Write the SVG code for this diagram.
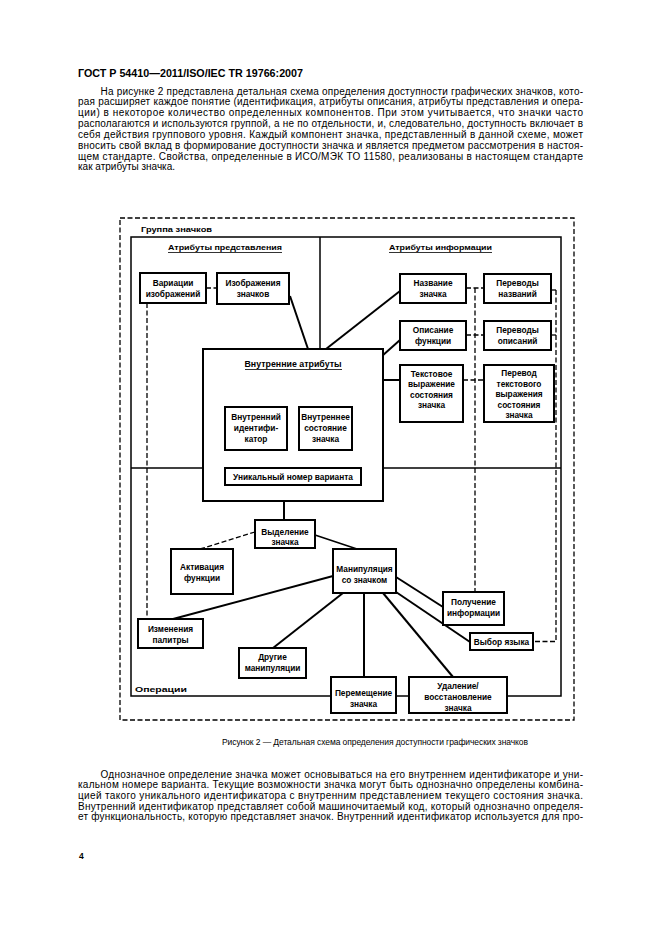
<svg xmlns="http://www.w3.org/2000/svg" width="661" height="936" viewBox="0 0 661 936">
<style>
.pg{font-family:"Liberation Sans",Arial,sans-serif;font-size:10px;fill:#000}
.hd{font-family:"Liberation Sans",Arial,sans-serif;font-size:10px;font-weight:bold;fill:#000}
.cap{font-family:"Liberation Sans",Arial,sans-serif;font-size:8.5px;fill:#000}
.bx rect{fill:#fff;stroke:#000;stroke-width:2}
.bx text{font-family:"Liberation Sans",Arial,sans-serif;font-size:8.3px;font-weight:bold;text-anchor:middle;fill:#000}
.lbl{font-family:"Liberation Sans",Arial,sans-serif;font-size:8px;font-weight:bold;fill:#000}
.sol{stroke:#000;stroke-width:2;fill:none}
.thin{stroke:#000;stroke-width:1.5;fill:none}
.dash{stroke:#000;stroke-width:1.3;fill:none;stroke-dasharray:5 2.5}
</style>
<rect width="661" height="936" fill="#fff"/>
<text class="hd" x="78" y="77" textLength="225" lengthAdjust="spacingAndGlyphs">ГОСТ Р 54410—2011/ISO/IEC TR 19766:2007</text>
<g id="para1">
<text class="pg" x="100.5" y="94.5" textLength="482.5" lengthAdjust="spacing">На рисунке 2 представлена детальная схема определения доступности графических значков, кото-</text>
<text class="pg" x="78" y="105.3" textLength="505" lengthAdjust="spacing">рая расширяет каждое понятие (идентификация, атрибуты описания, атрибуты представления и опера-</text>
<text class="pg" x="78" y="116.2" textLength="505" lengthAdjust="spacing">ции) в некоторое количество определенных компонентов. При этом учитывается, что значки часто</text>
<text class="pg" x="78" y="127" textLength="505" lengthAdjust="spacing">располагаются и используются группой, а не по отдельности, и, следовательно, доступность включает в</text>
<text class="pg" x="78" y="137.9" textLength="505" lengthAdjust="spacing">себя действия группового уровня. Каждый компонент значка, представленный в данной схеме, может</text>
<text class="pg" x="78" y="148.7" textLength="505" lengthAdjust="spacing">вносить свой вклад в формирование доступности значка и является предметом рассмотрения в настоя-</text>
<text class="pg" x="78" y="159.6" textLength="505" lengthAdjust="spacing">щем стандарте. Свойства, определенные в ИСО/МЭК ТО 11580, реализованы в настоящем стандарте</text>
<text class="pg" x="78" y="170.4">как атрибуты значка.</text>
</g>
<g id="frames">
<rect x="120" y="218" width="454" height="502" class="dash" stroke-dasharray="7 2.5" stroke-width="1.4"/>
<rect x="131" y="237" width="430" height="459" class="thin"/>
<line x1="320" y1="237" x2="320" y2="349" class="thin"/>
<line x1="131" y1="468" x2="561" y2="468" class="thin"/>
<text class="lbl" x="141" y="231.5" font-size="9" textLength="71" lengthAdjust="spacingAndGlyphs">Группа значков</text>
<text class="lbl" x="168" y="249.5" textLength="114" lengthAdjust="spacingAndGlyphs">Атрибуты представления</text>
<line x1="168" y1="252.5" x2="282" y2="252.5" stroke="#000" stroke-width="0.8"/>
<text class="lbl" x="389" y="249.5" textLength="103" lengthAdjust="spacingAndGlyphs">Атрибуты информации</text>
<line x1="389" y1="252.5" x2="492" y2="252.5" stroke="#000" stroke-width="0.8"/>
<text class="lbl" x="135" y="691.5" font-size="8.5" textLength="52" lengthAdjust="spacingAndGlyphs">Операции</text>
</g>
<g id="connectors">
<line x1="206" y1="288" x2="217" y2="288" class="dash"/>
<line x1="147" y1="303" x2="147" y2="619" class="dash"/>
<line x1="466" y1="288" x2="484" y2="288" class="dash"/>
<line x1="466" y1="335" x2="484" y2="335" class="dash"/>
<line x1="475" y1="288" x2="475" y2="592" class="dash"/>
<line x1="463" y1="380" x2="484" y2="380" class="dash"/>
<line x1="551" y1="290" x2="556" y2="290" class="dash" stroke-dasharray="none"/>
<line x1="551" y1="335" x2="556" y2="335" class="dash" stroke-dasharray="none"/>
<polyline points="556,290 556,641.5 533,641.5" class="dash"/>
<line x1="255" y1="532" x2="200" y2="549" class="dash"/>
<line x1="290" y1="296" x2="308" y2="349" class="sol"/>
<line x1="326" y1="349" x2="400" y2="291" class="sol"/>
<line x1="382" y1="356" x2="400" y2="340" class="sol"/>
<line x1="383" y1="380" x2="400" y2="380" class="sol"/>
<line x1="287" y1="428" x2="299" y2="428" class="sol"/>
<line x1="255" y1="450" x2="255" y2="468" class="sol"/>
<line x1="330" y1="450" x2="330" y2="468" class="sol"/>
<line x1="284" y1="501" x2="284" y2="520" class="sol"/>
<line x1="315" y1="535" x2="357" y2="549" class="thin"/>
<line x1="333" y1="576" x2="173" y2="619" class="sol"/>
<line x1="343" y1="593" x2="273" y2="648" class="sol"/>
<line x1="364" y1="593" x2="364" y2="677" class="sol"/>
<line x1="383" y1="593" x2="453" y2="677" class="sol"/>
<line x1="396" y1="577" x2="443" y2="607" class="sol"/>
<line x1="396" y1="592" x2="470" y2="642" class="sol"/>
</g>
<g id="vnAttr" class="bx">
<rect x="203" y="349" width="180" height="152" stroke-width="2.5"/>
<text x="293" y="366.5" font-size="8" textLength="97" lengthAdjust="spacingAndGlyphs">Внутренние атрибуты</text>
<line x1="245" y1="369.5" x2="342" y2="369.5" stroke="#000" stroke-width="0.8"/>
</g>
<g id="varIzobr" class="bx"><rect x="140" y="273" width="66" height="30"/><text x="173" y="286">Вариации</text><text x="173" y="297">изображений</text></g>
<g id="izobrZnach" class="bx"><rect x="217" y="273" width="72" height="31"/><text x="253" y="286">Изображения</text><text x="253" y="297">значков</text></g>
<g id="nazv" class="bx"><rect x="400" y="274" width="66" height="29"/><text x="433" y="286">Название</text><text x="433" y="297">значка</text></g>
<g id="perNazv" class="bx"><rect x="484" y="274" width="67" height="29"/><text x="517.5" y="286">Переводы</text><text x="517.5" y="297">названий</text></g>
<g id="opis" class="bx"><rect x="400" y="321" width="66" height="29"/><text x="433" y="333">Описание</text><text x="433" y="344">функции</text></g>
<g id="perOpis" class="bx"><rect x="484" y="321" width="67" height="29"/><text x="517.5" y="333">Переводы</text><text x="517.5" y="344">описаний</text></g>
<g id="tekst" class="bx"><rect x="400" y="365" width="63" height="57"/><text x="431.5" y="376.5">Текстовое</text><text x="431.5" y="387">выражение</text><text x="431.5" y="397.5">состояния</text><text x="431.5" y="408">значка</text></g>
<g id="perTekst" class="bx"><rect x="484" y="365" width="70" height="57"/><text x="519" y="376">Перевод</text><text x="519" y="386.5">текстового</text><text x="519" y="397">выражения</text><text x="519" y="407.5">состояния</text><text x="519" y="418">значка</text></g>
<g id="vnId" class="bx"><rect x="225" y="407" width="62" height="43"/><text x="256" y="420">Внутренний</text><text x="256" y="431">идентифи-</text><text x="256" y="442">катор</text></g>
<g id="vnSost" class="bx"><rect x="299" y="407" width="53" height="43"/><text x="325.5" y="420">Внутреннее</text><text x="325.5" y="431">состояние</text><text x="325.5" y="442">значка</text></g>
<g id="uniq" class="bx"><rect x="225" y="468" width="136" height="17"/><text x="293" y="479.8">Уникальный номер варианта</text></g>
<g id="vydel" class="bx"><rect x="255" y="520" width="60" height="28"/><text x="285" y="535">Выделение</text><text x="285" y="545">значка</text></g>
<g id="aktiv" class="bx"><rect x="171" y="549" width="62" height="45"/><text x="202" y="569.5">Активация</text><text x="202" y="580.5">функции</text></g>
<g id="manip" class="bx"><rect x="333" y="549" width="63" height="44"/><text x="364.5" y="571.5">Манипуляция</text><text x="364.5" y="582.5">со значком</text></g>
<g id="izmen" class="bx"><rect x="138" y="619" width="65" height="29"/><text x="170.5" y="631.5">Изменения</text><text x="170.5" y="642.5">палитры</text></g>
<g id="drug" class="bx"><rect x="239" y="648" width="67" height="30"/><text x="272.5" y="660">Другие</text><text x="272.5" y="670.5">манипуляции</text></g>
<g id="perem" class="bx"><rect x="331" y="677" width="65" height="36"/><text x="363.5" y="696">Перемещение</text><text x="363.5" y="706.5">значка</text></g>
<g id="udal" class="bx"><rect x="409" y="677" width="98" height="36"/><text x="458" y="689">Удаление/</text><text x="458" y="700">восстановление</text><text x="458" y="710.5">значка</text></g>
<g id="poluch" class="bx"><rect x="443" y="592" width="61" height="33"/><text x="473.5" y="605">Получение</text><text x="473.5" y="616">информации</text></g>
<g id="vybor" class="bx"><rect x="470" y="633" width="63" height="17"/><text x="501.5" y="645">Выбор языка</text></g>
<text class="cap" x="222" y="745" textLength="306" lengthAdjust="spacing">Рисунок  2 — Детальная схема определения доступности графических значков</text>
<g id="para2">
<text class="pg" x="100.5" y="777.5" textLength="482.5" lengthAdjust="spacing">Однозначное определение значка может основываться на его внутреннем идентификаторе и уни-</text>
<text class="pg" x="78" y="788.2" textLength="505" lengthAdjust="spacing">кальном номере варианта. Текущие возможности значка могут быть однозначно определены комбина-</text>
<text class="pg" x="78" y="798.9" textLength="505" lengthAdjust="spacing">цией такого уникального идентификатора с внутренним представлением текущего состояния значка.</text>
<text class="pg" x="78" y="809.6" textLength="505" lengthAdjust="spacing">Внутренний идентификатор представляет собой машиночитаемый код, который однозначно определя-</text>
<text class="pg" x="78" y="820.3" textLength="505" lengthAdjust="spacing">ет функциональность, которую представляет значок. Внутренний идентификатор используется для про-</text>
</g>
<text class="cap" x="79" y="858.5" font-weight="bold">4</text>
</svg>
